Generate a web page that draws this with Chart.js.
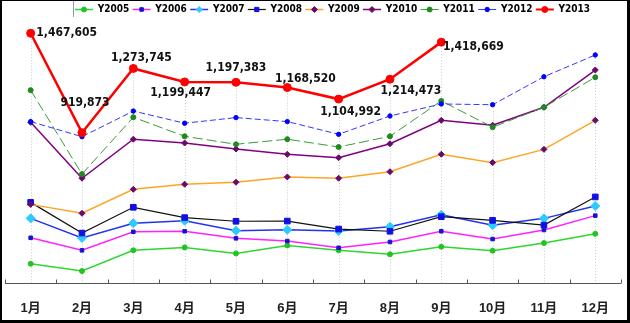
<!DOCTYPE html>
<html>
<head>
<meta charset="utf-8">
<script src="https://cdn.jsdelivr.net/npm/chart.js@4/dist/chart.umd.min.js"></script>
<style>
html, body { margin: 0; padding: 0; background: #fff; }
#wrap {
    width: 630px; height: 323px; box-sizing: border-box;
    border-style: solid; border-color: #000; border-width: 1px 3px 3px 2px;
    background: #fff;
}
#wrap canvas { display: block; }
</style>
</head>
<body>
<div id="wrap"><canvas id="salesChart" width="625" height="319"></canvas></div>
<script>
const months = ['1月', '2月', '3月', '4月', '5月', '6月', '7月', '8月', '9月', '10月', '11月', '12月'];
const seriesNames = ['Y2005', 'Y2006', 'Y2007', 'Y2008', 'Y2009', 'Y2010', 'Y2011', 'Y2012', 'Y2013'];

const y2005 = [198000, 158000, 272000, 288000, 255000, 299000, 272000, 250000, 292000, 270000, 312000, 363000];
const y2006 = [341000, 272000, 374000, 377000, 338000, 323000, 286000, 318000, 377000, 334000, 384000, 463000];
const y2007 = [448000, 340000, 421000, 435000, 380000, 385000, 378000, 402000, 468000, 410000, 448000, 516000];
const y2008 = [536000, 367000, 509000, 452000, 432000, 433000, 389000, 377000, 457000, 437000, 411000, 566000];
const y2009 = [525000, 476000, 608000, 636000, 647000, 676000, 669000, 705000, 801000, 755000, 828000, 988000];
const y2010 = [977000, 669000, 884000, 863000, 830000, 801000, 782000, 859000, 988000, 961000, 1060000, 1265000];
const y2011 = [1154000, 692000, 1005000, 900000, 856000, 884000, 841000, 900000, 1095000, 950000, 1060000, 1225000];
const y2012 = [981000, 898000, 1039000, 972000, 1003000, 981000, 911000, 1012000, 1078000, 1074000, 1228000, 1348000];
const y2013 = [1467605, 919873, 1273745, 1199447, 1197383, 1168520, 1104992, 1214473, 1418669, null, null, null];

const yMin = 92000;
const yMax = 1513000;

//..line / marker look of each series
const seriesStyles = [
    { line: '#2fd62f', width: 1.5, dash: [], point: 'circle', r: 2.5, fill: '#22c422' },
    { line: '#ff22ff', width: 1.5, dash: [], point: 'rect', r: 2.5, fill: '#1414d0' },
    { line: '#2233ee', width: 1.5, dash: [], point: 'rectRot', r: 4.5, fill: '#2ccbff' },
    { line: '#111111', width: 1.2, dash: [], point: 'rect', r: 4, fill: '#1010e6' },
    { line: '#ffa526', width: 1.5, dash: [], point: 'rectRot', r: 3, fill: '#6a0a6a' },
    { line: '#800080', width: 1.5, dash: [], point: 'rectRot', r: 3, fill: '#6a0a6a' },
    { line: '#3a9a3a', width: 1, dash: [10, 4], point: 'circle', r: 2.5, fill: '#1f8a1f' },
    { line: '#3535ff', width: 1, dash: [6, 3], point: 'circle', r: 2.2, fill: '#0000ff' },
    { line: '#ff0000', width: 2.5, dash: [], point: 'circle', r: 4, fill: '#ff0000' }
];

//..where each Y2013 value label sits relative to its point
const labelOffsets = [[36, 0], [3, -30], [8, -11], [-4, 11], [0, -14], [18, -9], [12, 13], [21, 12], [32, 5]];

const allSeries = [y2005, y2006, y2007, y2008, y2009, y2010, y2011, y2012, y2013];

const datasets = allSeries.map((values, i) => {
    const s = seriesStyles[i];
    return {
        label: seriesNames[i],
        data: values,
        borderColor: s.line,
        borderWidth: s.width,
        borderDash: s.dash,
        pointStyle: s.point,
        pointRadius: s.r,
        pointBackgroundColor: s.fill,
        pointBorderColor: s.fill,
        pointBorderWidth: 1,
        tension: 0,
        spanGaps: false,
        order: allSeries.length - 1 - i
    };
});

const labelFont = 'bold 12px "DejaVu Sans Condensed", "DejaVu Sans", sans-serif';

//..drop lines, axis line and tick marks
const axisPlugin = {
    id: 'axisPlugin',
    beforeDatasetsDraw(chart) {
        const { ctx, chartArea } = chart;
        const x = chart.scales.x;
        const bottom = chartArea.bottom;
        ctx.save();
        ctx.strokeStyle = '#cccccc';
        ctx.lineWidth = 1;
        ctx.setLineDash([1, 2]);
        months.forEach((m, j) => {
            let top = bottom;
            chart.data.datasets.forEach((ds, i) => {
                const pt = chart.getDatasetMeta(i).data[j];
                if (ds.data[j] != null && pt) top = Math.min(top, pt.y);
            });
            const px = Math.round(x.getPixelForValue(j)) + 0.5;
            ctx.beginPath();
            ctx.moveTo(px, top);
            ctx.lineTo(px, bottom);
            ctx.stroke();
        });
        ctx.setLineDash([]);
        ctx.strokeStyle = '#555';
        const ay = Math.round(bottom) + 0.5;
        ctx.beginPath();
        ctx.moveTo(chartArea.left, ay);
        ctx.lineTo(chartArea.right, ay);
        ctx.stroke();
        const step = x.getPixelForValue(1) - x.getPixelForValue(0);
        for (let j = 0; j <= months.length; j++) {
            const tx = Math.round(x.getPixelForValue(j) - step / 2) + 0.5;
            ctx.beginPath();
            ctx.moveTo(tx, ay);
            ctx.lineTo(tx, ay - 4);
            ctx.stroke();
        }
        ctx.restore();
    }
};

//..value labels on the Y2013 line
const valueLabels = {
    id: 'valueLabels',
    afterDatasetsDraw(chart) {
        const ctx = chart.ctx;
        const meta = chart.getDatasetMeta(allSeries.length - 1);
        ctx.save();
        ctx.font = labelFont;
        ctx.fillStyle = '#111';
        ctx.textAlign = 'center';
        ctx.textBaseline = 'middle';
        y2013.forEach((v, j) => {
            if (v == null) return;
            const p = meta.data[j];
            const [dx, dy] = labelOffsets[j];
            ctx.fillText(v.toLocaleString('en-US'), p.x + dx, p.y + dy);
        });
        ctx.restore();
    }
};

//..legend row across the top
const legendRow = {
    id: 'legendRow',
    afterDraw(chart) {
        const ctx = chart.ctx;
        ctx.save();
        ctx.strokeStyle = '#9a9a9a';
        ctx.lineWidth = 1;
        ctx.beginPath();
        ctx.moveTo(71.5, 0);
        ctx.lineTo(71.5, 16);
        ctx.stroke();
        ctx.font = 'bold 10px "DejaVu Sans Condensed", "DejaVu Sans", sans-serif';
        ctx.textBaseline = 'middle';
        ctx.textAlign = 'left';
        const cy = 8.5;
        chart.data.datasets.forEach((ds, i) => {
            const s = seriesStyles[i];
            const tx = 95.7 + i * 57.6;
            ctx.strokeStyle = s.line;
            ctx.lineWidth = Math.min(s.width, 2);
            ctx.beginPath();
            ctx.moveTo(tx - 22.7, cy);
            ctx.lineTo(tx - 4.7, cy);
            ctx.stroke();
            ctx.fillStyle = s.fill;
            ctx.strokeStyle = s.fill;
            ctx.lineWidth = 1;
            Chart.helpers.drawPoint(ctx, { pointStyle: s.point, radius: Math.min(s.r, 3), rotation: 0, borderWidth: 1 }, tx - 13.7, cy);
            ctx.fillStyle = '#000';
            ctx.fillText(ds.label, tx, cy);
        });
        ctx.restore();
    }
};

document.addEventListener('DOMContentLoaded', function () {
    new Chart(document.getElementById('salesChart'), {
        type: 'line',
        data: { labels: months, datasets: datasets },
        options: {
            responsive: false,
            animation: false,
            devicePixelRatio: 1,
            layout: { autoPadding: false, padding: { left: 3, right: 0, top: 24, bottom: 0 } },
            plugins: {
                legend: { display: false },
                tooltip: { enabled: false }
            },
            scales: {
                x: {
                    offset: true,
                    grid: { display: false, drawTicks: false },
                    border: { display: false },
                    afterFit(scale) { scale.height = 37; },
                    ticks: {
                        padding: 18,
                        autoSkip: false,
                        maxRotation: 0,
                        color: '#222',
                        font: { family: '"Liberation Sans", "Noto Sans CJK SC", sans-serif', size: 13, weight: 'bold' }
                    }
                },
                y: {
                    display: false,
                    min: yMin,
                    max: yMax
                }
            }
        },
        plugins: [axisPlugin, valueLabels, legendRow]
    });
});
</script>
</body>
</html>
